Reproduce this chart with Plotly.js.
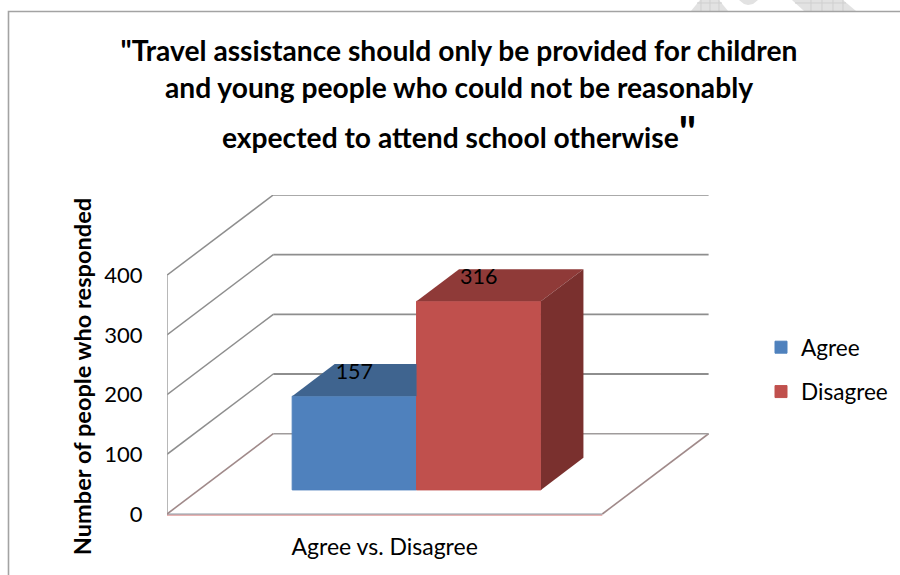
<!DOCTYPE html>
<html>
<head>
<meta charset="utf-8">
<script src="https://cdn.plot.ly/plotly-3.0.1.min.js"></script>
<style>html,body{margin:0;padding:0;background:#fff}</style>
</head>
<body>
<div id="chart" style="width:900px;height:575px"></div>
<script>
// Survey responses
const categories = ['Agree vs. Disagree'];
const seriesNames = ['Agree', 'Disagree'];
const seriesValues = [157, 316];
const seriesFront = ['#4F81BD', '#C0504D'];
const seriesTop = ['#3F648F', '#8F3A38'];
const seriesSide = ['#32506F', '#7A302E'];
const yTicks = [0, 100, 200, 300, 400];

// Frame of the plot area, in page pixels
const PLOT = {left: 167, right: 709, top: 195, bottom: 558, zeroY: 514};
const PX_PER_PERSON = 0.597;
const FLOOR_WIDTH_PX = 435.3;

// Oblique projection: a depth of 1 is the back wall of the box
const DEPTH_X = 106.3 / FLOOR_WIDTH_PX;
const DEPTH_V = 80.3 / PX_PER_PERSON;
const project = (x, v, d) => [x + d * DEPTH_X, v + d * DEPTH_V];

const BAR_WIDTH = 1 / 3.5;
const BAR_DEPTH_FRONT = 0.3;
const BAR_DEPTH_BACK = 0.7;
const CLUSTER_LEFT = 0.5 - BAR_WIDTH;
const LABEL_LIFT = 38;

const paperX = px => (px - PLOT.left) / (PLOT.right - PLOT.left);
const paperY = py => 1 - (py - PLOT.top) / (PLOT.bottom - PLOT.top);

function polygon(points, color) {
  return {
    type: 'scatter', mode: 'lines', fill: 'toself', fillcolor: color,
    x: points.map(p => p[0]), y: points.map(p => p[1]),
    line: {width: 0, color: color}, showlegend: false, hoverinfo: 'skip'
  };
}

const traces = [];

// Front faces are ordinary bars lifted off the floor by the projection
seriesValues.forEach((value, i) => {
  const left = CLUSTER_LEFT + i * BAR_WIDTH;
  const [fx, base] = project(left + BAR_WIDTH / 2, 0, BAR_DEPTH_FRONT);
  traces.push({
    type: 'bar', name: seriesNames[i], x: [fx], y: [value], base: [base],
    width: [BAR_WIDTH], legendgroup: seriesNames[i],
    marker: {color: seriesFront[i], line: {width: 1, color: seriesFront[i]}},
    hoverinfo: 'skip'
  });
});

// Top and side faces; a shorter bar's top stops at its neighbour's front
seriesValues.forEach((value, i) => {
  const left = CLUSTER_LEFT + i * BAR_WIDTH;
  const right = left + BAR_WIDTH;
  const fl = project(left, value, BAR_DEPTH_FRONT);
  const fr = project(right, value, BAR_DEPTH_FRONT);
  const bl = project(left, value, BAR_DEPTH_BACK);
  const br = project(right, value, BAR_DEPTH_BACK);
  if (i < seriesValues.length - 1) {
    traces.push(polygon([fl, fr, [fr[0], bl[1]], bl, fl], seriesTop[i]));
  } else {
    traces.push(polygon([fl, fr, br, bl, fl], seriesTop[i]));
    const fb = project(right, 0, BAR_DEPTH_FRONT);
    const bb = project(right, 0, BAR_DEPTH_BACK);
    traces.push(polygon([fr, br, bb, fb, fr], seriesSide[i]));
  }
});

// Value labels sit on the top faces
const labelPoints = seriesValues.map((v, i) => project(CLUSTER_LEFT + (i + 0.5) * BAR_WIDTH, v, BAR_DEPTH_FRONT));
traces.push({
  type: 'scatter', mode: 'text', showlegend: false, hoverinfo: 'skip',
  x: labelPoints.map(p => p[0]),
  y: labelPoints.map(p => p[1] + LABEL_LIFT),
  text: seriesValues.map(String),
  textposition: 'middle center',
  textfont: {family: 'Lato', size: 21.5, color: '#000'}
});

// Walls and floor
function lineShape(a, b, color, width) {
  return {type: 'line', layer: 'below', xref: 'x', yref: 'y',
    x0: a[0], y0: a[1], x1: b[0], y1: b[1], line: {color: color, width: width}};
}
const GRID = '#8E8E8E';
const shapes = [];
yTicks.filter(v => v > 0).forEach(v => {
  shapes.push(lineShape(project(0, v, 0), project(0, v, 1), GRID, 1.5));
  shapes.push(lineShape(project(0, v, 1), project(1, v, 1), GRID, 1.8));
});
shapes.push(lineShape(project(0, 0, 0), project(0, yTicks[yTicks.length - 1], 0), '#A0A0A0', 1.5));
// Floor outline, pink underlay beneath the grey edge
shapes.push(lineShape(project(0, -1.6, 0), project(1, -1.6, 0), '#E09A98', 1.5));
shapes.push(lineShape(project(0, 0, 0), project(1, 0, 0), '#8C9AA3', 1.2));
shapes.push(lineShape(project(0, 0, 0), project(0, 0, 1), '#A08A8A', 1.6));
shapes.push(lineShape(project(1, 0, 0), project(1, 0, 1), '#A08A8A', 1.6));
shapes.push(lineShape(project(0, 0, 1), project(1, 0, 1), '#A09C9C', 1.4));

// Outer frame of the chart
function pagePath(points, fill, lineColor, lineWidth) {
  const d = points.map((p, i) => (i ? 'L' : 'M') + paperX(p[0]) + ',' + paperY(p[1])).join(' ');
  return {type: 'path', xref: 'paper', yref: 'paper', layer: 'below', path: d,
    fillcolor: fill, line: {color: lineColor, width: lineWidth}};
}

// Hatched page decoration above the frame
const HATCH = '#E2E2E2';
const HATCH_LINE = '#CFCFCF';
shapes.push(pagePath([[691, 11], [728, 11], [719, 0], [700, 0]], HATCH, HATCH, 0));
shapes.push(pagePath([[739, 0], [758, 0], [753, 4], [748, 5], [744, 4]], HATCH, HATCH, 0));
shapes.push(pagePath([[804, 11], [856, 11], [843, 0], [792, 0]], HATCH, HATCH, 0));
[701, 710, 719, 811, 822, 833, 843].forEach(px => {
  shapes.push(pagePath([[px, 0], [px, 11]], 'rgba(0,0,0,0)', HATCH_LINE, 1));
});
shapes.push(pagePath([[697, 3], [722, 3]], 'rgba(0,0,0,0)', HATCH_LINE, 1));
shapes.push(pagePath([[795, 3], [846, 3]], 'rgba(0,0,0,0)', HATCH_LINE, 1));

shapes.push(pagePath([[8.5, 575], [8.5, 11.5], [900, 11.5]], 'rgba(0,0,0,0)', '#A3A3A3', 1.6));

const FONT = 'Lato';
const layout = {
  width: 900, height: 575,
  margin: {l: PLOT.left, r: 900 - PLOT.right, t: PLOT.top, b: 575 - PLOT.bottom},
  paper_bgcolor: '#fff', plot_bgcolor: 'rgba(0,0,0,0)',
  barmode: 'overlay', hovermode: false, font: {family: FONT, color: '#000'},
  title: {
    text: '"Travel assistance should only be provided for children<br>and young people who could not be reasonably',
    x: 459 / 900, xref: 'container', xanchor: 'center',
    y: 1 - 61 / 575, yref: 'container', yanchor: 'top',
    font: {family: FONT, size: 28.2, weight: 700, color: '#000'}
  },
  xaxis: {
    range: [0, (PLOT.right - PLOT.left) / FLOOR_WIDTH_PX],
    anchor: 'free', position: (PLOT.bottom - PLOT.zeroY) / (PLOT.bottom - PLOT.top),
    tickmode: 'array', tickvals: [0.5], ticktext: categories,
    ticks: 'outside', ticklen: 12, tickcolor: 'rgba(0,0,0,0)',
    tickfont: {family: FONT, size: 23}, showgrid: false, zeroline: false, showline: false, fixedrange: true
  },
  yaxis: {
    range: [(PLOT.zeroY - PLOT.bottom) / PX_PER_PERSON, (PLOT.zeroY - PLOT.top) / PX_PER_PERSON],
    tickmode: 'array', tickvals: yTicks,
    ticks: 'outside', ticklen: 19, tickcolor: 'rgba(0,0,0,0)',
    tickfont: {family: FONT, size: 22}, showgrid: false, zeroline: false, showline: false, fixedrange: true,
    title: {text: 'Number of people who responded', font: {family: FONT, size: 23.6, weight: 700}, standoff: 6}
  },
  legend: {
    x: 761 / 900, xref: 'container', xanchor: 'left', y: 1 - 326 / 575, yref: 'container', yanchor: 'top',
    tracegroupgap: 12, font: {family: FONT, size: 22.6}, traceorder: 'grouped', bgcolor: 'rgba(0,0,0,0)'
  },
  annotations: [{
    xref: 'paper', yref: 'paper', showarrow: false, xanchor: 'center', yanchor: 'middle',
    x: paperX(459), y: paperY(131),
    text: '<b>expected to attend school otherwise</b><span style="font-size:44px"><b>"</b></span>',
    font: {family: FONT, size: 28.2, color: '#000'}
  }],
  shapes: shapes
};

Plotly.newPlot('chart', traces, layout, {displayModeBar: false, staticPlot: true});
</script>
</body>
</html>
